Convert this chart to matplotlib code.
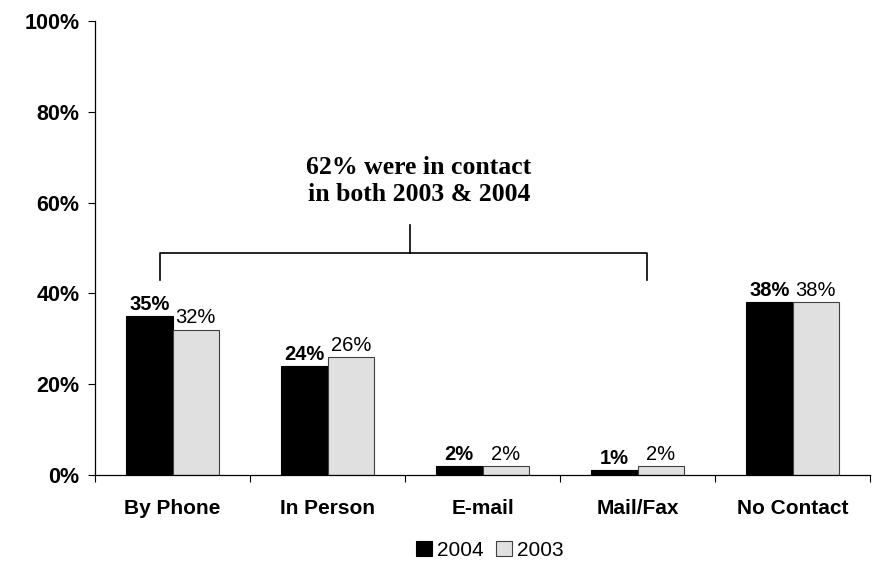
import matplotlib
matplotlib.use("Agg")
import matplotlib.pyplot as plt
from matplotlib.patches import Patch
import numpy as np

categories = ["By Phone", "In Person", "E-mail", "Mail/Fax", "No Contact"]
series_names = ["2004", "2003"]
values_2004 = [35, 24, 2, 1, 38]
values_2003 = [32, 26, 2, 2, 38]
y_ticks = [0, 20, 40, 60, 80, 100]
note_text = "62% were in contact\nin both 2003 & 2004"

plt.rcParams["font.family"] = ["Liberation Sans", "DejaVu Sans"]

fig = plt.figure(figsize=(8.82, 5.67), dpi=100)
ax = fig.add_axes([95 / 882, 92 / 567, 775 / 882, 454 / 567])

x = np.arange(len(categories))
w = 0.3
c04, c03 = "#000000", "#e0e0e0"
ax.bar(x - w / 2, values_2004, w, color=c04, edgecolor="#000000", linewidth=0.8)
ax.bar(x + w / 2, values_2003, w, color=c03, edgecolor="#404040", linewidth=0.8)

for xi, v in zip(x - w / 2, values_2004):
    ax.text(xi, v + 0.5, f"{v}%", ha="center", va="bottom", fontsize=14.5, fontweight="bold")
for xi, v in zip(x + w / 2, values_2003):
    ax.text(xi, v + 0.5, f"{v}%", ha="center", va="bottom", fontsize=14.5)

ax.set_xlim(-0.5, len(categories) - 0.5)
ax.set_ylim(0, 100)
ax.set_yticks(y_ticks)
ax.set_yticklabels([f"{t}%" for t in y_ticks], fontsize=15.5, fontweight="bold")
ax.set_xticks(x)
ax.set_xticklabels(categories, fontsize=15, fontweight="bold")
ax.tick_params(axis="x", length=0, pad=17)
ax.set_xticks(np.arange(len(categories) + 1) - 0.5, minor=True)
ax.tick_params(axis="x", which="minor", length=5, width=0.8, direction="out")
ax.tick_params(axis="y", length=5, width=0.8, direction="out", pad=6)
for s in ("top", "right"):
    ax.spines[s].set_visible(False)
for s in ("left", "bottom"):
    ax.spines[s].set_linewidth(0.9)

# bracket grouping the contact channels
bl, br, by, bdrop, bmid, btop = -0.08, 3.06, 48.9, 43.0, 1.53, 55.0
ax.plot([bl, bl, br, br], [bdrop, by, by, bdrop], color="black", lw=1.2)
ax.plot([bmid, bmid], [by, btop], color="black", lw=1.2)
ax.text(1.59, 64.8, note_text, ha="center", va="center", fontsize=18.5,
        fontweight="bold", family=["Liberation Serif", "DejaVu Serif"], linespacing=1.2)

handles = [Patch(facecolor=c04, edgecolor="black", lw=0.8),
           Patch(facecolor=c03, edgecolor="#404040", lw=0.8)]
fig.legend(handles, series_names, loc="center", bbox_to_anchor=(490 / 882, 1 - 550 / 567),
           ncol=2, frameon=False, fontsize=15, handlelength=0.75, handleheight=0.75,
           handletextpad=0.25, columnspacing=0.6)

fig.savefig("out.png", dpi=100)
